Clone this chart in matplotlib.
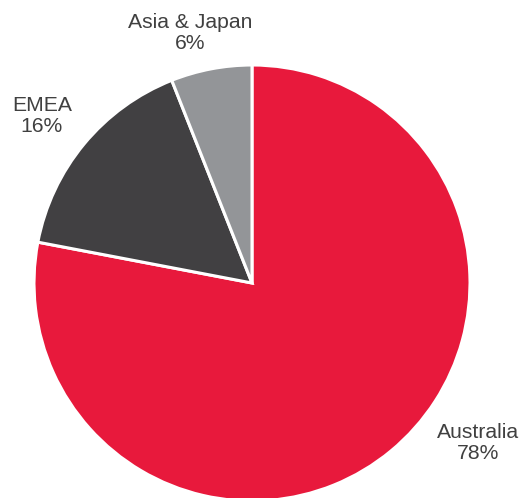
import matplotlib.pyplot as plt

regions = ["Australia", "EMEA", "Asia & Japan"]
shares = [78, 16, 6]
colors = ["#E8193C", "#414042", "#939598"]

# label anchor points (pixels from top-left)
label_pos = {"Australia": (478, 443), "EMEA": (42, 116), "Asia & Japan": (190, 33)}

W, H = 524, 498
fig = plt.figure(figsize=(W / 100, H / 100), dpi=100)
ax = fig.add_axes([0, 0, 1, 1])

ax.pie(shares, colors=colors, startangle=90, counterclock=False,
       center=(252, H - 283), radius=218,
       wedgeprops=dict(edgecolor="white", linewidth=2.2))
ax.set_xlim(0, W)
ax.set_ylim(0, H)
ax.set_aspect("equal")
ax.axis("off")

for name, val in zip(regions, shares):
    x, y = label_pos[name]
    ax.text(x, H - y, f"{name}\n{val}%", ha="center", va="center",
            fontsize=15.2, color="#404040", family="Liberation Sans",
            linespacing=1.15)

fig.savefig("out.png", dpi=100)
